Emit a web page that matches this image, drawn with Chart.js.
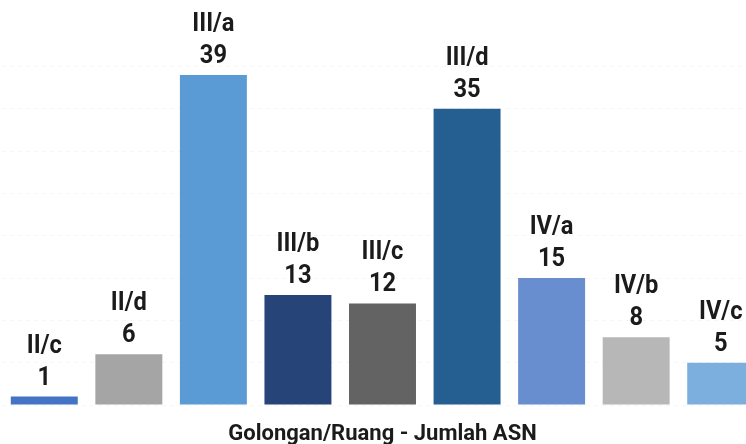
<!DOCTYPE html>
<html>
<head>
<meta charset="utf-8">
<script src="https://cdn.jsdelivr.net/npm/chart.js@4/dist/chart.umd.min.js"></script>
<style>
  html, body { margin: 0; padding: 0; background: #ffffff; overflow: hidden; }
  #wrap { position: absolute; left: 0; top: 0; width: 765px; height: 444px; }
</style>
</head>
<body>
<div id="wrap"><canvas id="c" width="765" height="444"></canvas></div>
<script>
// Golongan/Ruang and the number of ASN in each
const golongan = ['II/c', 'II/d', 'III/a', 'III/b', 'III/c', 'III/d', 'IV/a', 'IV/b', 'IV/c'];
const jumlahASN = [1, 6, 39, 13, 12, 35, 15, 8, 5];
const barColors = ['#4472C4', '#A5A5A5', '#5B9BD5', '#264478', '#636363', '#255E91', '#698ED0', '#B7B7B7', '#7CAFDD'];
const axisTitle = 'Golongan/Ruang - Jumlah ASN';

const FONT = 'Roboto, "Liberation Sans", Arial, sans-serif';

// Two-line label above each bar: category, then value (slightly narrowed glyphs)
const barLabels = {
  id: 'barLabels',
  afterDatasetsDraw(chart) {
    const ctx = chart.ctx;
    const meta = chart.getDatasetMeta(0);
    const sx = 0.91;
    ctx.save();
    ctx.fillStyle = '#1b1b1b';
    ctx.font = 'bold 26px ' + FONT;
    ctx.textAlign = 'center';
    ctx.textBaseline = 'alphabetic';
    meta.data.forEach((bar, i) => {
      const v = chart.data.datasets[0].data[i];
      const lines = [[chart.data.labels[i], 44], [String(v), 12]];
      lines.forEach(([txt, off]) => {
        ctx.save();
        ctx.translate(bar.x, bar.y - off);
        ctx.scale(sx, 1);
        ctx.fillText(txt, 0, 0);
        ctx.restore();
      });
    });
    ctx.restore();
  }
};

new Chart(document.getElementById('c'), {
  type: 'bar',
  data: {
    labels: golongan,
    datasets: [{
      data: jumlahASN,
      backgroundColor: barColors,
      borderWidth: 0,
      categoryPercentage: 0.8,
      barPercentage: 0.99
    }]
  },
  options: {
    responsive: false,
    animation: false,
    devicePixelRatio: 1,
    layout: { padding: { top: 66.5, left: 2, right: 2, bottom: 0 } },
    plugins: {
      legend: { display: false },
      tooltip: { enabled: false }
    },
    scales: {
      x: {
        grid: { display: false, drawTicks: false, tickLength: 0 },
        border: { display: false },
        ticks: { display: false, padding: 0 },
        title: {
          display: true,
          text: axisTitle,
          color: '#1b1b1b',
          font: { family: FONT, size: 22, weight: 'bold', lineHeight: 1 },
          padding: { top: 18.5, bottom: -1.5 }
        }
      },
      y: {
        min: 0,
        max: 40,
        ticks: { display: false, stepSize: 5 },
        border: { display: false, dash: [4, 4] },
        grid: { color: 'rgba(0,0,0,0.035)', drawTicks: false, tickLength: 0 }
      }
    }
  },
  plugins: [barLabels]
});
</script>
</body>
</html>
